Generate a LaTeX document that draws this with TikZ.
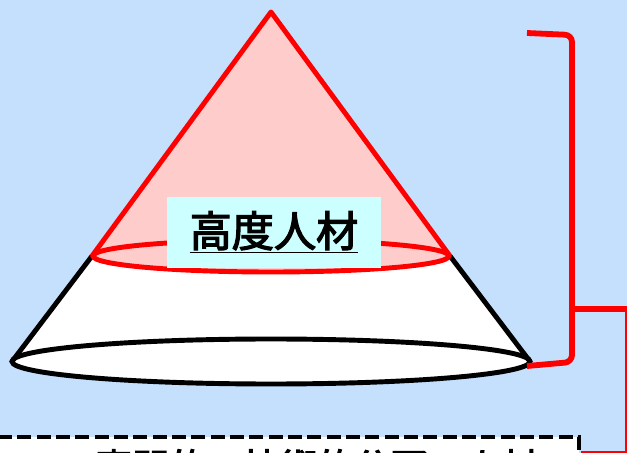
\documentclass[tikz,border=0pt]{standalone}
\usepackage{fontspec}
\newfontfamily\jpfont{Noto Sans CJK JP}[AutoFakeBold=3]
\usepackage{tikz}
\usetikzlibrary{positioning}
\definecolor{skyback}{RGB}{196,224,252}
\definecolor{conepink}{RGB}{255,204,204}
\definecolor{labelcyan}{RGB}{204,255,255}
\tikzset{
  redline/.style={draw=red, line width=2.8pt},
  blackline/.style={draw=black, line width=2.8pt},
  bracketline/.style={draw=red, line width=3.3pt, rounded corners=4pt},
}

\begin{document}
\begin{tikzpicture}[x=0.02cm, y=-0.02cm]
  \useasboundingbox (0,0) rectangle (627,453);
  \clip (0,0) rectangle (627,453);
  \fill[skyback] (0,0) rectangle (627,453);
  % cone corners
  \coordinate (apex) at (271,12);
  \coordinate (ml) at (92,256);
  \coordinate (mr) at (450,256);
  \coordinate (bl) at (12,361.5);
  \coordinate (br) at (530,361.5);
  % lower part of the cone
  \fill[white] (ml) -- (bl) -- (br) -- (mr) -- cycle;
  \draw[blackline, fill=white] (271,361.5) ellipse [x radius=259, y radius=22.5];
  \draw[blackline] (ml) -- (bl);
  \draw[blackline] (mr) -- (br);
  % upper part of the cone
  \fill[conepink] (apex) -- (ml) -- (mr) -- cycle;
  \draw[redline, fill=conepink] (271,256) ellipse [x radius=178, y radius=16];
  \draw[redline, line join=round] (ml) -- (apex) -- (mr);
  \node[fill=labelcyan, minimum width=214*0.02cm, minimum height=71*0.02cm,
        font=\jpfont\bfseries\fontsize{24}{28}\selectfont] (top) at (274,232.5)
        {\underline{\raisebox{2pt}{高度人材}}};
  % bracket
  \coordinate (b1) at (527,33);
  \coordinate (b2) at (527,366);
  \coordinate (bm) at (572,309);
  \draw[bracketline] (b1) -- (572,35) -- (572,362) -- (b2);
  \draw[red, line width=3.3pt] (bm) -- (630,309);
  \draw[red, line width=0.6pt] (626,309) -- (626,452) -- (581,452);
  % lower box
  \draw[black, line width=1.8pt, dash pattern=on 8pt off 3pt, fill=white]
    (-5,437) rectangle (579,480);
  \node[anchor=north west, inner sep=0pt, font=\jpfont\bfseries\fontsize{21}{24}\selectfont]
    (low) at (95,449) {専門的・技術的分野の人材};
\end{tikzpicture}
\end{document}
